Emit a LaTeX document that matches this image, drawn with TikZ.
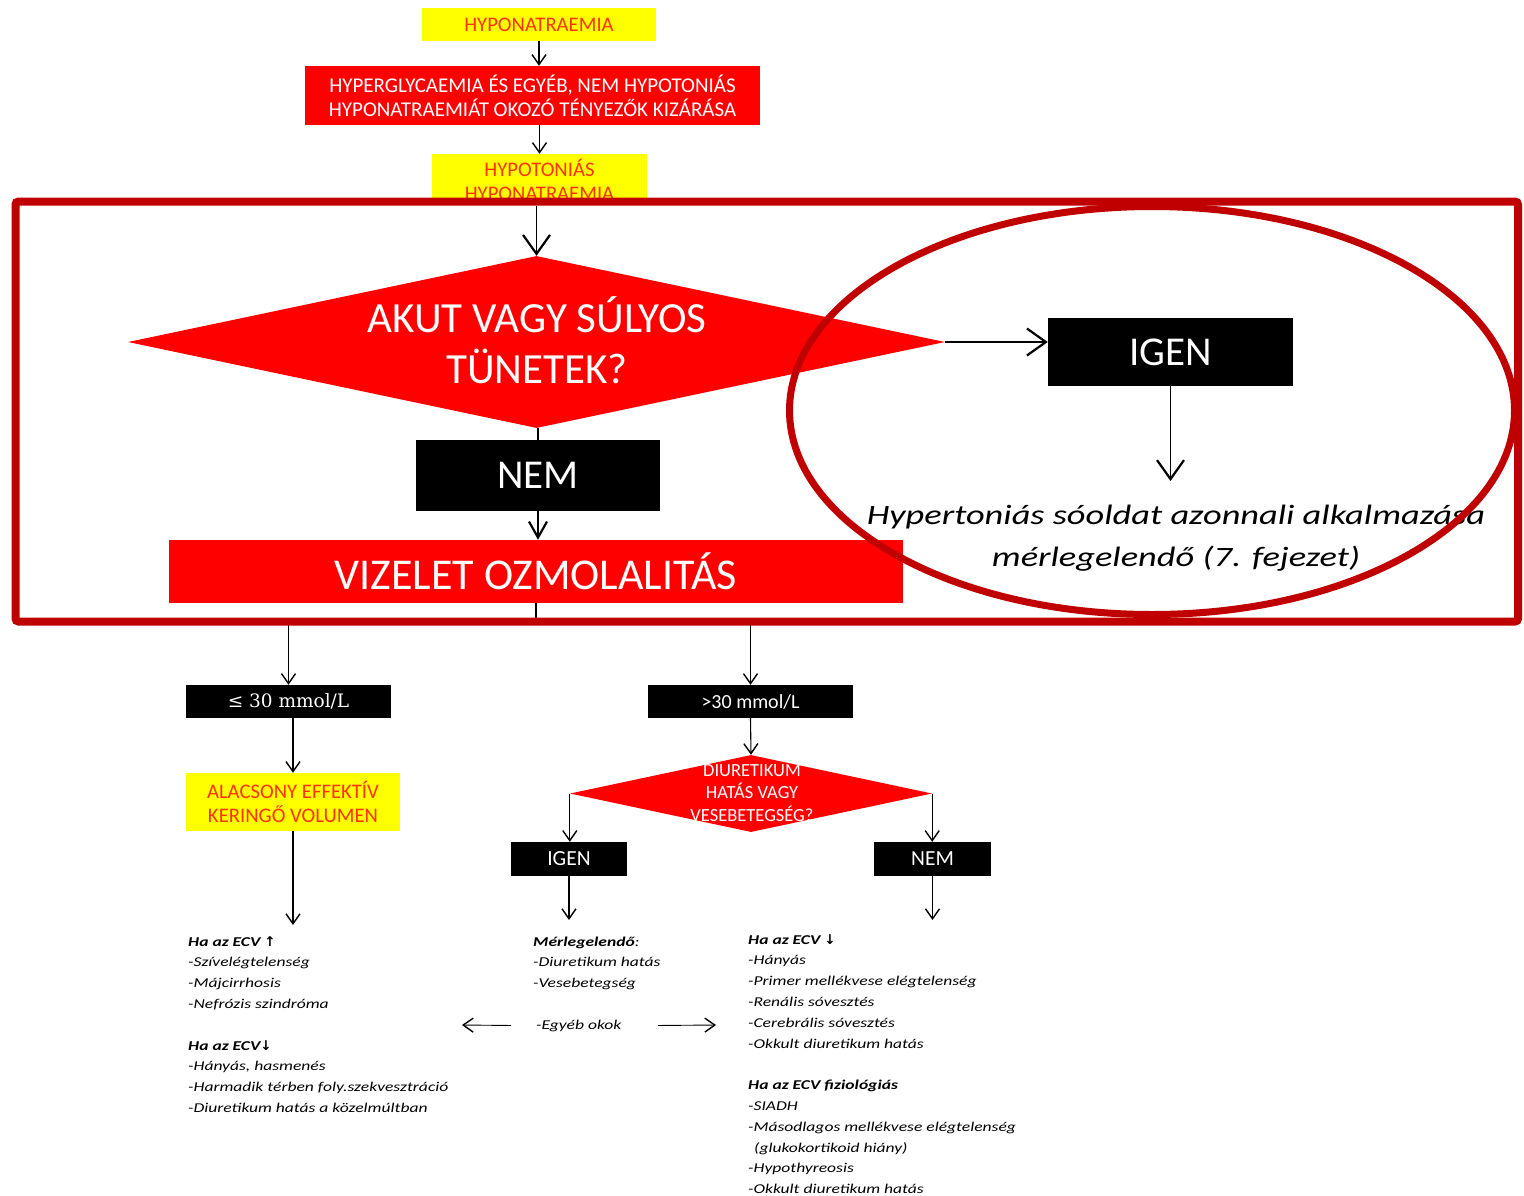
\documentclass[tikz,border=0pt]{standalone}
\usepackage{fontspec}
\setmainfont{Carlito}
\newfontfamily\itfont[FakeStretch=1.3]{Carlito}
\newfontfamily\dvs{DejaVu Sans}
\newfontfamily\dvserif{DejaVu Serif}
\usetikzlibrary{shapes.geometric,arrows.meta,calc}
\definecolor{fr}{HTML}{C00000}
\definecolor{rd}{HTML}{FF0000}
\definecolor{yl}{HTML}{FFFF00}
\definecolor{ot}{HTML}{FF3300}
\begin{document}
\begin{tikzpicture}[x=1pt,y=-1pt,
  ybox/.style={fill=yl, text=ot, inner sep=0pt, align=center, font=\fontsize{20.7}{24.5}\selectfont},
  rbox/.style={fill=rd, text=white, inner sep=0pt, align=center},
  kbox/.style={fill=black, text=white, inner sep=0pt, align=center},
  arr/.style={line width=1.1pt, -{Straight Barb[length=10pt,width=14pt,line width=1.4pt]}},
  farr/.style={line width=1.4pt, -{Straight Barb[length=19pt,width=27pt,line width=2.2pt]}},
  marr/.style={line width=1.4pt, -{Straight Barb[length=16pt,width=18pt,line width=2.2pt]}},
  ln/.style={line width=1.1pt},
  lst/.style={inner sep=0pt, anchor=base west, font=\itfont\itshape\fontsize{13.5}{20.8}\selectfont},
  dtext/.style={text=white, inner sep=0pt, align=center}
]
\useasboundingbox (0,0) rectangle (1524,1195);

% top part
\node[ybox, minimum width=234pt, minimum height=33pt] (hypo) at (539,24.5) {HYPONATRAEMIA};
\node[rbox, font=\fontsize{21}{24}\selectfont, minimum width=455pt, minimum height=59pt] (excl) at (532.5,95.5)
  {HYPERGLYCAEMIA ÉS EGYÉB, NEM HYPOTONIÁS\\HYPONATRAEMIÁT OKOZÓ TÉNYEZŐK KIZÁRÁSA};
\begin{scope}
  \clip (0,0) rectangle (1524,201);
  \node[ybox, minimum width=215pt, minimum height=52pt] (hypot) at (539.5,180) {HYPOTONIÁS\\HYPONATRAEMIA};
\end{scope}
\draw[arr] (hypo.south) -- (hypo.south |- excl.north);
\draw[arr] (hypot.north |- excl.south) -- (hypot.north);

% framed part
\node[diamond, fill=rd, inner sep=0pt, minimum width=817pt, minimum height=172pt] (dmd) at (536.5,342) {};
\node[dtext, font=\fontsize{43}{51}\selectfont] (dtxt) at (537,340) {AKUT VAGY SÚLYOS\\TÜNETEK?};
\draw[farr] (dmd.north |- hypot.south) -- (dmd.north);

\node[kbox, font=\fontsize{41}{48}\selectfont, minimum width=245pt, minimum height=68pt] (igen) at (1170.5,352) {IGEN};
\draw[farr] (dmd.east) -- (dmd.east -| igen.west);
\coordinate (ehyp) at (1170.5,481);
\draw[farr, line width=1.1pt] (igen.south) -- (ehyp);
\node[inner sep=0pt, anchor=base, font=\itfont\itshape\fontsize{28}{42}\selectfont] (hyp) at (1176,524)
  {\begin{tabular}[t]{@{}c@{}}Hypertoniás sóoldat azonnali alkalmazása\\mérlegelendő (7. fejezet)\end{tabular}};

\node[kbox, font=\fontsize{41}{48}\selectfont, minimum width=244pt, minimum height=71pt] (nem) at (538,475.5) {NEM};
\draw[ln] (nem.north |- dmd.south) -- (nem.north);
\node[rbox, font=\fontsize{44}{50}\selectfont, minimum width=734pt, minimum height=63pt] (viz) at (536,571.5) {VIZELET OZMOLALITÁS};
\draw[marr] (nem.south) -- (nem.south |- viz.north);

% lower part
\draw[ln] (viz.south) -- ++(0,17) coordinate (split);
\node[kbox, font=\dvserif\fontsize{18.5}{21}\selectfont, minimum width=205pt, minimum height=33pt] (le) at (288.5,701.5) {≤ 30 mmol/L};
\node[kbox, font=\fontsize{20}{22}\selectfont, minimum width=205pt, minimum height=33pt] (gt) at (750.5,701.5) {>30 mmol/L};
\draw[arr] (split) -| (le.north);
\draw[arr] (split) -| (gt.north);

\node[ybox, minimum width=214pt, minimum height=58pt] (alac) at (293,802) {ALACSONY EFFEKTÍV\\KERINGŐ VOLUMEN};
\draw[arr] (alac.north |- le.south) -- (alac.north);
\coordinate (e1) at (293,925);
\draw[arr] (alac.south) -- (e1);

\node[diamond, fill=rd, inner sep=0pt, minimum width=362pt, minimum height=77pt] (dd) at (751,793.5) {};
\node[dtext, font=\fontsize{18.5}{22.5}\selectfont] (ddt) at (752,793) {DIURETIKUM\\HATÁS VAGY\\VESEBETEGSÉG?};
\draw[arr] (gt.south) -- (dd.north);

\node[kbox, font=\fontsize{21.5}{22}\selectfont, minimum width=116pt, minimum height=34pt] (ig2) at (569,859) {IGEN};
\node[kbox, font=\fontsize{21.5}{22}\selectfont, minimum width=117pt, minimum height=34pt] (ne2) at (932.5,859) {NEM};
\draw[arr] (dd.west) -- (dd.west |- ig2.north);
\draw[arr] (dd.east) -- (dd.east |- ne2.north);
\coordinate (e2) at (569,920);
\coordinate (e3) at (932.5,920);
\draw[arr] (ig2.south) -- (e2);
\draw[arr] (ne2.south) -- (e3);

% lists
\node[lst] (listL) at (188,946) {\begin{tabular}[t]{@{}l@{}}
\textbf{Ha az ECV {\dvs\bfseries ↑}}\\
-Szívelégtelenség\\
-Májcirrhosis\\
-Nefrózis szindróma\\[20.8pt]
\textbf{Ha az ECV{\dvs\bfseries ↓}}\\
-Hányás, hasmenés\\
-Harmadik térben foly.szekvesztráció\\
-Diuretikum hatás a közelmúltban
\end{tabular}};

\node[lst] (listM) at (533,946) {\begin{tabular}[t]{@{}l@{}}
\textbf{Mérlegelendő}:\\
-Diuretikum hatás\\
-Vesebetegség
\end{tabular}};
\node[lst] (egy) at (536,1029) {-Egyéb okok};
\coordinate (la) at (462,1025);
\coordinate (ra) at (716,1025);
\draw[arr, line width=0.9pt] ([xshift=-25pt]egy.west) -- (la);
\draw[arr, line width=0.9pt] ([xshift=122pt]egy.west) -- (ra);

\node[lst] (listR) at (748,944) {\begin{tabular}[t]{@{}l@{}}
\textbf{Ha az ECV {\dvs\bfseries ↓}}\\
-Hányás\\
-Primer mellékvese elégtelenség\\
-Renális sóvesztés\\
-Cerebrális sóvesztés\\
-Okkult diuretikum hatás\\[20.8pt]
\textbf{Ha az ECV fiziológiás}\\
-SIADH\\
-Másodlagos mellékvese elégtelenség\\
\hspace*{6pt}(glukokortikoid hiány)\\
-Hypothyreosis\\
-Okkult diuretikum hatás
\end{tabular}};

% highlight frame and ellipse
\draw[fr, line width=7pt] (1152,410.5) ellipse [x radius=362.5, y radius=204];
\draw[fr, line width=8pt, rounded corners=3pt] (15.5,201.5) rectangle (1518,621.5);
\end{tikzpicture}
\end{document}
